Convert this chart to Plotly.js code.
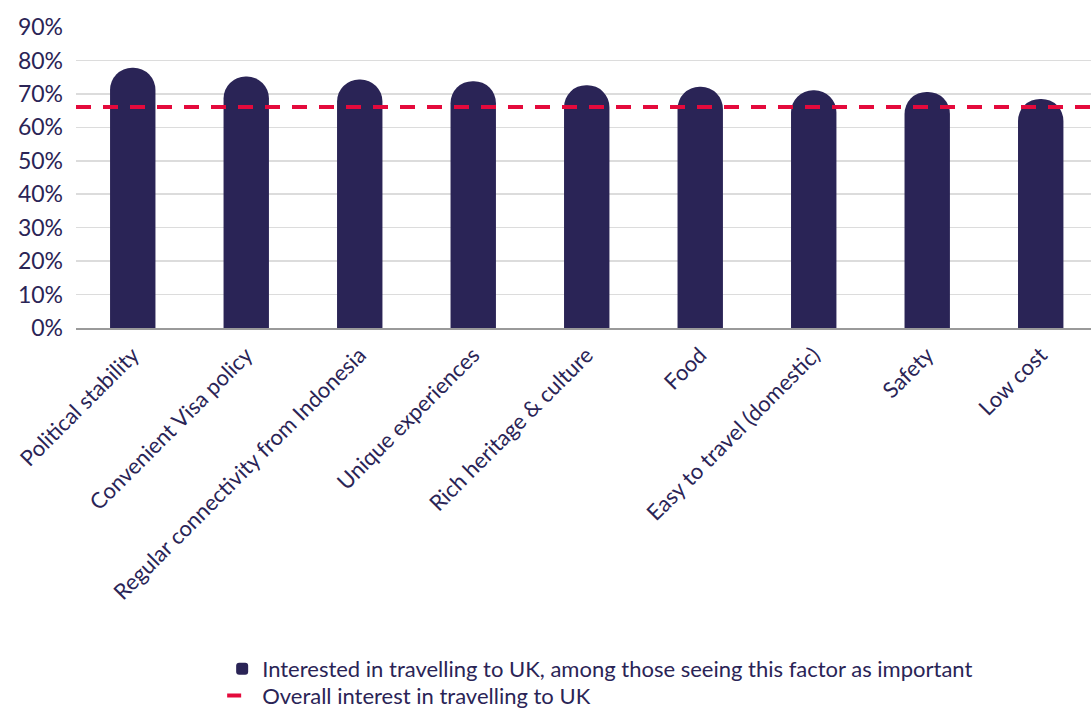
<!DOCTYPE html>
<html>
<head>
<meta charset="utf-8">
<script src="https://cdn.plot.ly/plotly-3.0.1.min.js"></script>
<style>
html,body{margin:0;padding:0;background:#fff;}
#chart{width:1091px;height:708px;}
</style>
</head>
<body>
<div id="chart"></div>
<script>
const categories = [
  "Political stability",
  "Convenient Visa policy",
  "Regular connectivity from Indonesia",
  "Unique experiences",
  "Rich heritage & culture",
  "Food",
  "Easy to travel (domestic)",
  "Safety",
  "Low cost"
];
const interestAmongImportant = [0.778, 0.752, 0.743, 0.738, 0.726, 0.721, 0.711, 0.706, 0.685];
const overallInterest = 0.661;
const yTickValues = [0, 0.1, 0.2, 0.3, 0.4, 0.5, 0.6, 0.7, 0.8, 0.9];
const seriesNames = [
  "Interested in travelling to UK, among those seeing this factor as important",
  "Overall interest in travelling to UK"
];

const navy = "#2a2456";
const red = "#e40a3c";
const fontFamily = "Lato, 'Open Sans', sans-serif";

const traces = [
  {
    type: "bar",
    x: categories,
    y: interestAmongImportant,
    name: seriesNames[0],
    marker: {color: navy, cornerradius: "50%"},
    hoverinfo: "x+y",
    legend: "legend"
  },
  {
    type: "scatter",
    mode: "lines",
    x: [null],
    y: [null],
    name: seriesNames[1],
    line: {color: red, width: 4, dash: "14px,40px"},
    hoverinfo: "skip",
    legend: "legend2"
  }
];

const legendBase = {
  xref: "paper",
  yref: "paper",
  x: 0.144,
  xanchor: "left",
  yanchor: "middle",
  orientation: "v",
  font: {size: 22, color: navy, family: fontFamily},
  itemwidth: 30,
  bgcolor: "rgba(0,0,0,0)"
};

const layout = {
  width: 1091,
  height: 708,
  margin: {l: 76, r: 0, t: 27, b: 380, autoexpand: false},
  paper_bgcolor: "#ffffff",
  plot_bgcolor: "#ffffff",
  font: {family: fontFamily, color: navy, size: 19},
  bargap: 0.6,
  showlegend: true,
  legend: Object.assign({}, legendBase, {y: -1.133}),
  legend2: Object.assign({}, legendBase, {y: -1.222}),
  xaxis: {
    type: "category",
    automargin: false,
    range: [-0.5, 8.443],
    tickangle: -45,
    tickfont: {size: 22, color: navy, family: fontFamily},
    showgrid: false,
    showline: true,
    linecolor: "#9a9a9a",
    linewidth: 1.5,
    ticks: "",
    ticklabelstandoff: 4,
    fixedrange: true
  },
  yaxis: {
    automargin: false,
    range: [0, 0.9],
    tickvals: yTickValues,
    tickformat: ".0%",
    tickfont: {size: 23, color: navy, family: fontFamily},
    showgrid: true,
    gridcolor: "#dcdcdc",
    gridwidth: 1.5,
    zeroline: false,
    showline: false,
    ticks: "",
    ticklabelstandoff: 12,
    fixedrange: true
  },
  shapes: [
    {
      type: "line",
      xref: "paper",
      yref: "y",
      x0: 0,
      x1: 1,
      y0: overallInterest,
      y1: overallInterest,
      line: {color: red, width: 4, dash: "15px,12px"},
      layer: "above"
    }
  ]
};

Plotly.newPlot("chart", traces, layout, {displayModeBar: false, staticPlot: true});
</script>
</body>
</html>
